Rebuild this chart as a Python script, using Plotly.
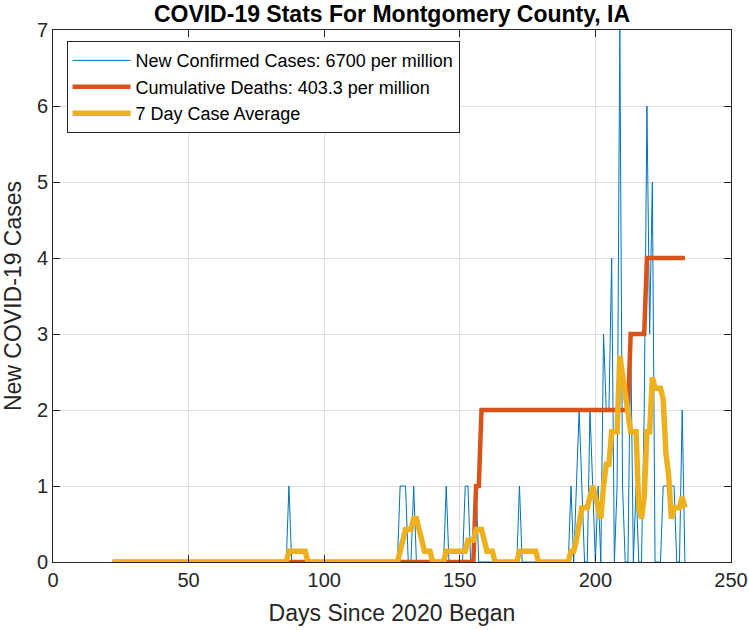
import plotly.graph_objects as go

# daily data runs from day 22 to day 233 of 2020
first_day = 22
last_day = 233

# new confirmed cases (only days with cases listed, all other days are 0)
case_days = [87, 128, 129, 130, 133, 145, 152, 153, 156, 172,
             191, 193, 194, 195, 198, 199, 201, 203, 204, 205,
             206, 208, 209, 210, 213, 215, 218, 219, 220, 221,
             225, 226, 227, 228, 229, 232]
case_counts = [1, 1, 1, 1, 1, 1, 1, 1, 1, 1,
               1, 1, 2, 1, 2, 1, 1, 3, 2, 2,
               4, 1, 7, 1, 3, 1, 2, 6, 3, 5,
               1, 1, 1, 1, 1, 2]

# cumulative deaths: day on which the running total changes, and the new total
death_days = [156, 158, 213, 219]
death_totals = [1, 2, 3, 4]

# 7 day case average (days not listed are 0)
avg_days = [87, 88, 89, 90, 91, 92, 93,
            128, 129, 130, 131, 132, 133, 134, 135, 136, 137, 138, 139,
            145, 146, 147, 148, 149, 150, 151, 152, 153, 154, 155, 156,
            157, 158, 159, 160, 161, 162,
            172, 173, 174, 175, 176, 177, 178,
            191, 192, 193, 194, 195, 196, 197, 198, 199, 200, 201, 202,
            203, 204, 205, 206, 207, 208, 209, 210, 211, 212, 213, 214,
            215, 216, 217, 218, 219, 220, 221, 222, 223, 224, 225, 226,
            227, 228, 229, 230, 231, 232, 233]
avg_values = [0.143, 0.143, 0.143, 0.143, 0.143, 0.143, 0.143,
              0.143, 0.286, 0.429, 0.429, 0.429, 0.571, 0.571, 0.429, 0.286, 0.143, 0.143, 0.143,
              0.143, 0.143, 0.143, 0.143, 0.143, 0.143, 0.143, 0.143, 0.286, 0.286, 0.286, 0.429,
              0.429, 0.429, 0.286, 0.143, 0.143, 0.143,
              0.143, 0.143, 0.143, 0.143, 0.143, 0.143, 0.143,
              0.143, 0.143, 0.286, 0.571, 0.714, 0.714, 0.714, 0.857, 1.0, 0.857, 0.714, 0.571,
              1.0, 1.286, 1.286, 1.714, 1.714, 1.714, 2.714, 2.429, 2.143, 1.857, 1.714, 1.714,
              1.714, 0.714, 0.571, 0.857, 1.714, 1.714, 2.429, 2.286, 2.286, 2.286, 2.143, 1.429,
              1.143, 0.571, 0.714, 0.714, 0.714, 0.857, 0.714]

cases_label = "New Confirmed Cases: 6700 per million"
deaths_label = "Cumulative Deaths: 403.3 per million"
avg_label = "7 Day Case Average"

days = list(range(first_day, last_day + 1))


def expand(sparse_days, values):
    """Turn a sparse day -> value list into one value per day"""
    lookup = dict(zip(sparse_days, values))
    return [lookup.get(d, 0) for d in days]


new_cases = expand(case_days, case_counts)
case_avg = expand(avg_days, avg_values)

cum_deaths = []
total = 0
for d in days:
    for change_day, new_total in zip(death_days, death_totals):
        if d == change_day:
            total = new_total
    cum_deaths.append(total)

font_family = "Liberation Sans, Arial, sans-serif"
axis_color = "#262626"

fig = go.Figure()
fig.add_trace(go.Scatter(x=days, y=new_cases, mode="lines", name=cases_label,
                         line=dict(color="#0072BD", width=1)))
fig.add_trace(go.Scatter(x=days, y=cum_deaths, mode="lines", name=deaths_label,
                         line=dict(color="#D95319", width=4.5)))
fig.add_trace(go.Scatter(x=days, y=case_avg, mode="lines", name=avg_label,
                         line=dict(color="#EDB120", width=5.5)))

axis_style = dict(
    automargin=False,
    showgrid=True,
    gridcolor="#dfdfdf",
    gridwidth=1,
    zeroline=False,
    showline=True,
    linecolor=axis_color,
    linewidth=1,
    mirror="ticks",
    ticks="inside",
    ticklen=7,
    tickcolor=axis_color,
    tickfont=dict(size=20, color=axis_color, family=font_family),
)

fig.update_layout(
    width=749,
    height=630,
    margin=dict(l=53, r=18, t=30, b=68),
    paper_bgcolor="white",
    plot_bgcolor="white",
    font=dict(family=font_family, color=axis_color),
    title=dict(
        text="<b>COVID-19 Stats For Montgomery County, IA</b>",
        x=0.5,
        xref="paper",
        xanchor="center",
        y=1 - 14 / 630,
        yref="container",
        yanchor="middle",
        automargin=False,
        font=dict(size=23, color="black", family=font_family),
    ),
    xaxis=dict(
        range=[0, 250],
        tickvals=[0, 50, 100, 150, 200, 250],
        title=dict(text="Days Since 2020 Began", standoff=14,
                   font=dict(size=23, color=axis_color)),
        **axis_style,
    ),
    yaxis=dict(
        range=[0, 7],
        tickvals=[0, 1, 2, 3, 4, 5, 6, 7],
        title=dict(text="New COVID-19 Cases", standoff=13,
                   font=dict(size=23, color=axis_color)),
        **axis_style,
    ),
    legend=dict(
        x=0.02,
        y=0.979,
        xanchor="left",
        yanchor="top",
        bgcolor="white",
        bordercolor=axis_color,
        borderwidth=1,
        itemwidth=58,
        font=dict(size=18, color="black", family=font_family),
    ),
    showlegend=True,
)

config = {"displayModeBar": False}

# drop the browser's default page margin so the figure sits at the top-left corner
fig.write_html("out.html", config=config,
               post_script="document.body.style.margin = '0';")
